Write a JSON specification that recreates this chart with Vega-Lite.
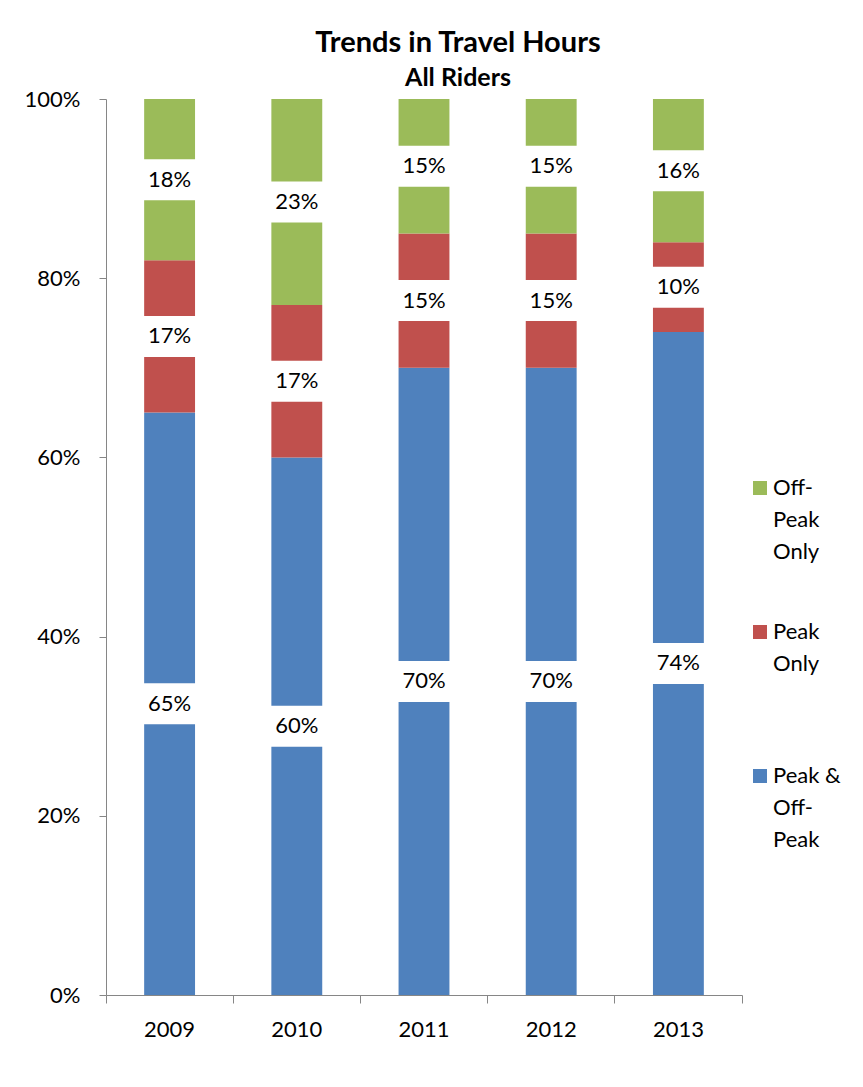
{
  "$schema": "https://vega.github.io/schema/vega-lite/v6.json",
  "autosize": "none",
  "padding": {"left": 106, "top": 99, "right": 121, "bottom": 92},
  "width": 636,
  "height": 896,
  "background": "white",
  "config": {
    "font": "Lato",
    "view": {"stroke": null},
    "style": {"guide-label": {"lineHeight": 32}},
    "axis": {"domainColor": "#868686", "tickColor": "#868686", "labelColor": "black", "labelFont": "Lato", "labelFontSize": 22, "grid": false, "title": null}
  },
  "title": {
    "text": "Trends in Travel Hours",
    "subtitle": "All Riders",
    "anchor": "middle",
    "frame": "group",
    "dx": 34,
    "offset": -3,
    "font": "Lato",
    "fontSize": 29,
    "fontWeight": "bold",
    "color": "black",
    "subtitleFont": "Lato",
    "subtitleFontSize": 25,
    "subtitleFontWeight": "bold",
    "subtitleColor": "black",
    "subtitlePadding": 8
  },
  "data": {
    "values": [
      {"year": "2009", "series": "Peak & Off-Peak", "order": 1, "value": 0.65},
      {"year": "2009", "series": "Peak Only", "order": 2, "value": 0.17},
      {"year": "2009", "series": "Off-Peak Only", "order": 3, "value": 0.18},
      {"year": "2010", "series": "Peak & Off-Peak", "order": 1, "value": 0.60},
      {"year": "2010", "series": "Peak Only", "order": 2, "value": 0.17},
      {"year": "2010", "series": "Off-Peak Only", "order": 3, "value": 0.23},
      {"year": "2011", "series": "Peak & Off-Peak", "order": 1, "value": 0.70},
      {"year": "2011", "series": "Peak Only", "order": 2, "value": 0.15},
      {"year": "2011", "series": "Off-Peak Only", "order": 3, "value": 0.15},
      {"year": "2012", "series": "Peak & Off-Peak", "order": 1, "value": 0.70},
      {"year": "2012", "series": "Peak Only", "order": 2, "value": 0.15},
      {"year": "2012", "series": "Off-Peak Only", "order": 3, "value": 0.15},
      {"year": "2013", "series": "Peak & Off-Peak", "order": 1, "value": 0.74},
      {"year": "2013", "series": "Peak Only", "order": 2, "value": 0.10},
      {"year": "2013", "series": "Off-Peak Only", "order": 3, "value": 0.16}
    ]
  },
  "transform": [
    {"stack": "value", "groupby": ["year"], "sort": [{"field": "order", "order": "ascending"}], "as": ["y0", "y1"]},
    {"calculate": "(datum.y0 + datum.y1) / 2", "as": "mid"}
  ],
  "encoding": {
    "x": {
      "field": "year",
      "type": "nominal",
      "scale": {"paddingInner": 0, "paddingOuter": 0},
      "axis": {"labelAngle": 0, "bandPosition": 1, "tickExtra": true, "tickSize": 8, "labelPadding": 16, "domainWidth": 1, "tickWidth": 1}
    }
  },
  "layer": [
    {
      "mark": {"type": "bar", "width": {"band": 0.4}},
      "encoding": {
        "y": {
          "field": "y0",
          "type": "quantitative",
          "scale": {"domain": [0, 1], "nice": false},
          "axis": {"values": [0, 0.2, 0.4, 0.6, 0.8, 1], "format": ".0%", "tickSize": 7, "labelPadding": 19}
        },
        "y2": {"field": "y1"},
        "color": {
          "field": "series",
          "type": "nominal",
          "scale": {"domain": ["Off-Peak Only", "Peak Only", "Peak & Off-Peak"], "range": ["#9BBB59", "#C0504D", "#4F81BD"]},
          "legend": {
            "title": null,
            "orient": "none",
            "legendX": 643,
            "legendY": 378,
            "symbolType": "square",
            "symbolSize": 196,
            "symbolStrokeWidth": 0,
            "labelFont": "Lato",
            "labelFontSize": 22,
            "labelColor": "black",
            "labelOffset": 2,
            "labelLimit": 200,
            "rowPadding": 58,
            "labelExpr": "datum.label == 'Off-Peak Only' ? ['Off-', 'Peak', 'Only'] : datum.label == 'Peak Only' ? ['Peak', 'Only', ''] : ['Peak &', 'Off-', 'Peak']"
          }
        }
      }
    },
    {
      "mark": {"type": "tick", "color": "white", "opacity": 1, "thickness": 41, "size": 58, "orient": "horizontal"},
      "encoding": {"y": {"field": "mid", "type": "quantitative"}}
    },
    {
      "mark": {"type": "text", "font": "Lato", "fontSize": 22, "color": "black", "baseline": "middle"},
      "encoding": {
        "y": {"field": "mid", "type": "quantitative"},
        "text": {"field": "value", "type": "quantitative", "format": ".0%"}
      }
    }
  ]
}
